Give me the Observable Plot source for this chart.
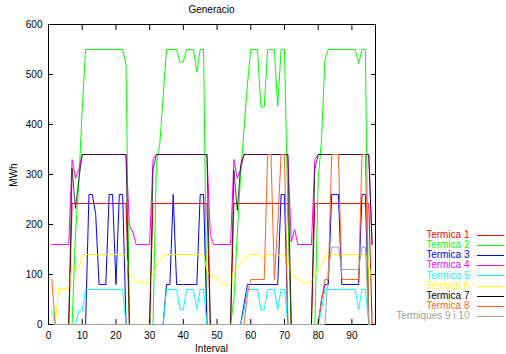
<!DOCTYPE html>
<html><head><meta charset="utf-8">
<script src="https://cdn.jsdelivr.net/npm/d3@7"></script>
<script src="https://cdn.jsdelivr.net/npm/@observablehq/plot@0.6"></script>
<style>
body{margin:0;background:#fff;}
#wrap{position:relative;width:506px;height:354px;font-family:"Liberation Sans",Arial,sans-serif;font-size:10px;color:#000;}
#wrap svg{position:absolute;left:0;top:0;}
.lbl{position:absolute;white-space:nowrap;line-height:10px;}
.key{position:absolute;height:0;border-top:1px solid;}
</style></head><body><div id="wrap"></div>
<script>
// Data (intervals 1..96)
const termica1 = [
  0,0,0,0,0,0,242,242,242,242,242,242,
  242,242,242,242,242,242,242,242,242,242,242,0,
  0,0,0,0,0,0,242,242,242,242,242,242,
  242,242,242,242,242,242,242,242,242,242,242,0,
  0,0,0,0,0,0,242,242,242,242,242,242,
  242,242,242,242,242,242,242,242,242,242,242,0,
  0,0,0,0,0,0,242,242,242,242,242,242,
  242,242,242,242,242,242,242,242,242,242,242,0];
const termica2 = [
  0,0,0,0,0,0,0,180,285,430,550,550,
  550,550,550,550,550,550,550,550,550,550,520,0,
  0,0,0,0,0,0,0,320,360,455,550,550,
  550,550,525,525,550,550,550,505,550,550,0,0,
  0,0,0,0,0,0,50,180,300,390,480,550,
  550,550,435,435,550,550,550,437,550,550,230,0,
  0,0,0,0,0,0,0,290,370,530,550,550,
  550,550,550,550,550,550,550,522,550,550,0,0];
const termica3 = [
  0,0,0,0,0,0,0,0,0,0,0,260,
  260,220,80,80,80,260,260,80,260,260,0,0,
  0,0,0,0,0,0,0,0,0,0,80,80,
  260,80,80,80,80,80,80,80,260,260,0,0,
  0,0,0,0,0,0,0,0,0,40,80,80,
  80,80,80,80,80,80,80,80,260,260,0,0,
  0,0,0,0,0,0,0,0,50,80,80,260,
  260,260,80,80,80,80,80,80,260,260,0,0];
const termica4 = [
  160,160,160,160,160,160,330,292,310,340,340,340,
  340,340,340,340,340,340,340,340,340,340,340,198,
  185,160,160,160,160,160,330,340,340,340,340,340,
  340,340,340,340,340,340,340,340,340,340,340,180,
  160,160,160,160,160,160,330,292,310,340,340,340,
  340,340,340,340,340,340,340,340,340,340,340,165,
  190,160,160,160,160,160,330,340,340,340,340,340,
  340,340,340,340,340,340,340,340,340,340,340,160];
const termica5 = [
  28,0,0,0,0,0,0,0,28,28,70,70,
  70,70,70,70,70,70,70,70,70,70,0,0,
  0,0,0,0,0,0,0,0,0,0,70,70,
  70,70,30,30,70,70,70,30,70,70,0,0,
  0,0,0,0,0,0,0,0,0,28,70,70,
  70,70,30,30,70,70,70,30,70,70,0,0,
  0,0,0,0,0,0,0,0,28,70,70,70,
  70,70,70,70,70,70,70,30,70,70,0,0];
const termica6 = [
  0,0,72,72,72,72,115,108,112,135,140,140,
  140,140,140,140,140,140,140,140,140,140,140,98,
  95,88,85,84,82,83,102,115,128,138,140,140,
  140,140,140,140,140,140,140,140,140,140,108,98,
  95,94,85,80,76,82,110,112,122,134,136,140,
  140,140,134,134,140,140,134,137,140,136,128,100,
  97,90,88,84,82,85,100,108,118,135,140,140,
  140,140,140,140,140,140,140,140,140,140,118,92];
const termica7 = [
  0,0,0,0,0,0,312,232,290,340,340,340,
  340,340,340,340,340,340,340,340,340,340,340,0,
  0,0,0,0,0,0,310,340,340,340,340,340,
  340,340,340,340,340,340,340,340,340,340,340,0,
  0,0,0,0,0,0,308,228,320,340,340,340,
  340,340,340,340,340,340,340,340,340,340,340,0,
  0,0,0,0,0,0,310,340,340,340,340,340,
  340,340,340,340,340,340,340,340,340,340,340,160];
const termica8 = [
  90,0,0,0,0,0,0,0,0,0,0,0,
  0,0,0,0,0,0,0,0,0,0,0,0,
  0,0,0,0,0,0,0,0,0,0,0,0,
  0,0,0,0,0,0,0,0,0,0,0,0,
  0,0,0,0,0,0,0,0,0,0,60,90,
  90,90,90,90,340,340,90,200,340,340,0,0,
  0,0,0,0,0,0,0,0,50,90,90,340,
  340,340,90,90,90,90,90,90,340,340,0,0];
const termiques9i10 = [
  0,0,0,0,0,0,0,0,0,0,0,0,
  0,0,0,0,0,0,0,0,0,0,0,0,
  0,0,0,0,0,0,0,0,0,0,0,0,
  0,0,0,0,0,0,0,0,0,0,0,0,
  0,0,0,0,0,0,0,0,0,0,0,0,
  0,0,0,0,0,0,0,0,0,0,0,0,
  0,0,0,0,0,0,0,0,0,0,110,155,
  155,155,110,110,110,110,110,110,155,155,0,0];

const seriesNames = ["Termica 1","Termica 2","Termica 3","Termica 4","Termica 5","Termica 6","Termica 7","Termica 8","Termiques 9 i 10"];
const seriesValues = [termica1,termica2,termica3,termica4,termica5,termica6,termica7,termica8,termiques9i10];
const xTicks = [0,10,20,30,40,50,60,70,80,90];
const yTicks = [0,100,200,300,400,500,600];
const title = "Generacio", xLabel = "Interval", yLabel = "MWh";

// styles
const colors = ["#ff0000","#00ff00","#0000ff","#ff00ff","#00ffff","#ffff00","#000000","#ff6020","#a0a0a0"];

const rows = seriesValues.flatMap((vals, s) => vals.map((v, k) => ({interval: k + 1, mwh: v, serie: seriesNames[s]})));

const W = 506, H = 354, mL = 48, mR = 131, mT = 24, mB = 30;

const marks = [Plot.frame({stroke: "#000"})];
seriesNames.forEach((name, s) => {
  marks.push(Plot.lineY(rows.filter(d => d.serie === name), {
    x: "interval", y: "mwh", stroke: colors[s], strokeWidth: 1,
    strokeOpacity: name === "Termica 7" ? 0.72 : 1
  }));
});
marks.push(
  Plot.axisX({ticks: xTicks, tickSize: -5, tickPadding: 12, label: null}),
  Plot.axisX({ticks: xTicks, anchor: "top", tickSize: -5, tickFormat: () => "", label: null}),
  Plot.axisY({ticks: yTicks, tickSize: -5, tickPadding: 11, label: null}),
  Plot.axisY({ticks: yTicks, anchor: "right", tickSize: -5, tickFormat: () => "", label: null})
);

const chart = Plot.plot({
  width: W, height: H,
  marginLeft: mL, marginRight: mR, marginTop: mT, marginBottom: mB,
  x: {domain: [0, 97]},
  y: {domain: [0, 600]},
  style: {fontFamily: "'Liberation Sans', Arial, sans-serif", fontSize: "10px", color: "#000", background: "transparent"},
  marks
});
const wrap = document.getElementById("wrap");
wrap.appendChild(chart);

function label(text, css) {
  const d = document.createElement("div");
  d.className = "lbl";
  d.textContent = text;
  Object.assign(d.style, css);
  wrap.appendChild(d);
  return d;
}
const cx = (mL + (W - mR)) / 2;
const cy = (mT + (H - mB)) / 2;
label(title, {left: "0px", width: (2 * cx) + "px", textAlign: "center", top: "4.5px"});
label(xLabel, {left: "0px", width: (2 * cx) + "px", textAlign: "center", top: "344px"});
const yl = label(yLabel, {left: "0px", top: "0px", transformOrigin: "center center"});
const yw = yl.offsetWidth;
Object.assign(yl.style, {left: (13.5 - yw / 2) + "px", top: (cy + 0.5 - 5) + "px", transform: "rotate(-90deg)"});

seriesNames.forEach((name, k) => {
  const yc = 235 + 10.1 * k;
  label(name, {right: (W - 469.5) + "px", top: (yc - 4.9) + "px", color: colors[k], textAlign: "right"});
  const ln = document.createElement("div");
  ln.className = "key";
  Object.assign(ln.style, {left: "477px", width: "27px", top: (Math.round(yc) - 0.5) + "px", borderTopColor: colors[k]});
  wrap.appendChild(ln);
});
</script></body></html>
